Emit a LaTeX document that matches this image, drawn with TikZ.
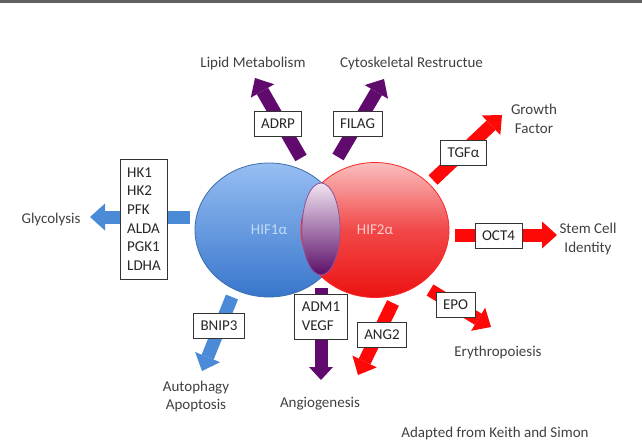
\documentclass[tikz,border=0pt]{standalone}
\usepackage{fontspec}
\setmainfont{Carlito}
\usetikzlibrary{arrows.meta, positioning, shapes.geometric}

\definecolor{hifblue}{RGB}{74,138,214}
\definecolor{hifred}{RGB}{255,8,8}
\definecolor{hifpurple}{RGB}{96,10,110}
\definecolor{labelgray}{RGB}{64,64,64}

\begin{document}
\begin{tikzpicture}[
				x=1pt, y=-1pt,
				font=\fontsize{15}{18.6}\selectfont,
				gene/.style={draw=black!80, fill=white, line width=0.9pt, inner xsep=7pt, inner ysep=0pt, minimum height=25pt, text=black!85, align=left},
				effect/.style={text=labelgray, align=center},
				fat/.style={line width=13pt, -{Triangle[length=15pt, width=27pt, line width=0pt]}},
				hif/.style={ellipse, inner sep=0pt, line width=0.8pt}
				]
				\useasboundingbox (0,0) rectangle (642,447);
				\draw[line width=3pt, black!62] (0,1.5) -- (642,1.5);
				
				% HIF1a, HIF2a und Schnittmenge
				\node[hif, minimum width=148pt, minimum height=134pt, draw=hifblue!80!black, top color={rgb,255:red,150;green,190;blue,242}, bottom color={rgb,255:red,56;green,118;blue,204}, text={rgb,255:red,195;green,218;blue,246}] (hif1) at (269,230) {HIF1α};
				\node[hif, minimum width=148pt, minimum height=135pt, draw=red!85, top color={rgb,255:red,250;green,190;blue,190}, bottom color={rgb,255:red,236;green,18;blue,18}, middle color={rgb,255:red,242;green,72;blue,72}, text={rgb,255:red,252;green,205;blue,205}] (hif2) at (375,230) {HIF2α};
				\node[hif, minimum width=38pt, minimum height=92pt, draw=hifpurple!70, top color={rgb,255:red,240;green,228;blue,242}, bottom color={rgb,255:red,92;green,14;blue,104}] (both) at (321,229) {};
				
				% Enden der Pfeile
				\coordinate (glyFrom) at (190,217);  \coordinate (glyTo) at (90,217);
				\coordinate (bnipFrom) at (232,297); \coordinate (bnipTo) at (202,371);
				\coordinate (adrpFrom) at (301,158); \coordinate (adrpTo) at (255,78);
				\coordinate (filFrom) at (338,157);  \coordinate (filTo) at (384,79);
				\coordinate (angFrom) at (321,288);  \coordinate (angTo) at (321,380);
				\coordinate (tgfFrom) at (433,180);  \coordinate (tgfTo) at (502,115);
				\coordinate (octFrom) at (455,235);  \coordinate (octTo) at (557,235);
				\coordinate (epoFrom) at (430,290);  \coordinate (epoTo) at (491,327);
				\coordinate (ang2From) at (393,303); \coordinate (ang2To) at (358,375);
				
				% Pfeile
				\draw[fat, hifblue] (glyFrom) -- (glyTo);
				\draw[fat, hifblue] (bnipFrom) -- (bnipTo);
				\draw[fat, hifpurple] (adrpFrom) -- (adrpTo);
				\draw[fat, hifpurple] (filFrom) -- (filTo);
				\draw[fat, hifpurple, -{Triangle[length=13pt, width=24pt, line width=0pt]}] (angFrom) -- (angTo);
				\draw[fat, hifred] (tgfFrom) -- (tgfTo);
				\draw[fat, hifred] (octFrom) -- (octTo);
				\draw[fat, hifred] (epoFrom) -- (epoTo);
				\draw[fat, hifred] (ang2From) -- (ang2To);
				
				% Zielgene
				\node[gene, minimum height=120pt] (glygenes) at (144,219) {HK1\\HK2\\PFK\\ALDA\\PGK1\\LDHA};
				\node[gene] (bnip) at (219,325.5) {BNIP3};
				\node[gene] (adrp) at (278,124) {ADRP};
				\node[gene] (filag) at (357.5,124) {FILAG};
				\node[gene, minimum height=45pt] (vegf) at (321,316.5) {ADM1\\VEGF};
				\node[gene] (tgf) at (463.5,152.5) {TGFα};
				\node[gene] (oct) at (498.5,235.5) {OCT4};
				\node[gene] (epo) at (455.5,304.5) {EPO};
				\node[gene] (ang2) at (382,334.5) {ANG2};
				
				% Wirkungen
				\node[effect] (glycolysis) at (51,219) {Glycolysis};
				\node[effect] (autophagy) at (196,396.5) {Autophagy\\Apoptosis};
				\node[effect] (lipid) at (253,63) {Lipid Metabolism};
				\node[effect] (cyto) at (411.5,63) {Cytoskeletal Restructue};
				\node[effect] (growth) at (534,119) {Growth\\Factor};
				\node[effect] (stem) at (588,239) {Stem Cell\\Identity};
				\node[effect] (ery) at (498,352) {Erythropoiesis};
				\node[effect] (angio) at (320,404) {Angiogenesis};
				\node[effect] (source) at (495,433) {Adapted from Keith and Simon};
				
			\end{tikzpicture}
\end{document}
